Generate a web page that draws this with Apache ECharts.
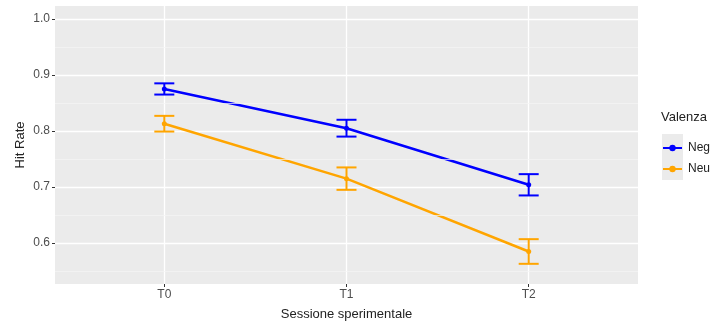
<!DOCTYPE html>
<html>
<head>
<meta charset="utf-8">
<script src="https://cdn.jsdelivr.net/npm/echarts@6/dist/echarts.min.js"></script>
<style>
  html, body { margin: 0; padding: 0; background: #fff; }
  #main { width: 717px; height: 324px; }
</style>
</head>
<body>
<div id="main"></div>
<script>
// dati
var sessioni = ['T0', 'T1', 'T2'];
var negMean = [0.875, 0.805, 0.704];
var negErr = [0.010, 0.015, 0.019];
var neuMean = [0.813, 0.715, 0.585];
var neuErr = [0.014, 0.020, 0.022];
var yTicks = [0.6, 0.7, 0.8, 0.9, 1.0];
var yMinor = [0.55, 0.65, 0.75, 0.85, 0.95];

(function () {
  var myChart = echarts.init(document.getElementById('main'));
  var font = 'Liberation Sans, Arial, sans-serif';

  function pts(arr) {
    return arr.map(function (v, i) { return [i, v]; });
  }
  function bars(mean, err) {
    return mean.map(function (v, i) { return [i, v - err[i], v + err[i]]; });
  }
  // barre di errore
  function errorBar(color) {
    return function (params, api) {
      var x = api.value(0);
      var lo = api.coord([x, api.value(1)]);
      var hi = api.coord([x, api.value(2)]);
      var half = 10;
      var st = { stroke: color, lineWidth: 2 };
      return {
        type: 'group',
        children: [
          { type: 'line', shape: { x1: lo[0], y1: lo[1], x2: hi[0], y2: hi[1] }, style: st },
          { type: 'line', shape: { x1: lo[0] - half, y1: lo[1], x2: lo[0] + half, y2: lo[1] }, style: st },
          { type: 'line', shape: { x1: hi[0] - half, y1: hi[1], x2: hi[0] + half, y2: hi[1] }, style: st }
        ]
      };
    };
  }

  var option = {
    animation: false,
    grid: {
      left: 55,
      right: 79,
      top: 6,
      bottom: 40,
      outerBoundsMode: 'none',
      show: true,
      backgroundColor: '#EBEBEB',
      borderWidth: 0
    },
    xAxis: {
      type: 'value',
      min: -0.6,
      max: 2.6,
      name: 'Sessione sperimentale',
      nameLocation: 'middle',
      nameGap: 24,
      nameMoveOverlap: false,
      nameTextStyle: { color: '#222', fontSize: 13, fontFamily: font },
      axisLine: { show: false, onZero: false },
      axisTick: { customValues: [0, 1, 2], length: 3, lineStyle: { color: '#333', width: 1 } },
      axisLabel: {
        customValues: [0, 1, 2],
        color: '#4D4D4D',
        fontSize: 12,
        fontFamily: font,
        margin: 5,
        formatter: function (v) { return sessioni[Math.round(v)]; }
      },
      splitLine: { show: true, lineStyle: { color: '#fff', width: 1.3 } }
    },
    yAxis: {
      type: 'value',
      min: 0.527,
      max: 1.023,
      name: 'Hit Rate',
      nameLocation: 'middle',
      nameGap: 28,
      nameMoveOverlap: false,
      nameTextStyle: { color: '#222', fontSize: 13, fontFamily: font },
      axisLine: { show: false, onZero: false },
      axisTick: { customValues: yTicks, length: 3, lineStyle: { color: '#333', width: 1 } },
      axisLabel: {
        customValues: yTicks,
        color: '#4D4D4D',
        fontSize: 12,
        fontFamily: font,
        margin: 5,
        formatter: function (v) { return v.toFixed(1); }
      },
      splitLine: { show: true, lineStyle: { color: '#fff', width: 1.3 } }
    },
    legend: {
      orient: 'vertical',
      left: 662,
      top: 142,
      itemWidth: 19,
      itemHeight: 8,
      itemGap: 9,
      padding: 0,
      data: ['Neg', 'Neu'],
      textStyle: { color: '#222', fontSize: 12, fontFamily: font, padding: [0, 0, 0, 1] }
    },
    graphic: [
      {
        type: 'text',
        left: 661,
        top: 111,
        style: { text: 'Valenza', fill: '#222', font: '13px ' + font }
      },
      {
        type: 'rect',
        left: 662,
        top: 134,
        z: -1,
        shape: { width: 21, height: 46 },
        style: { fill: '#EBEBEB' }
      }
    ],
    series: [
      {
        // griglia minore
        type: 'line',
        data: [],
        silent: true,
        z: 0,
        markLine: {
          silent: true,
          symbol: 'none',
          label: { show: false },
          lineStyle: { color: '#F5F5F5', width: 0.7, type: 'solid' },
          data: yMinor.map(function (v) { return { yAxis: v }; })
        }
      },
      {
        name: 'Neg',
        type: 'line',
        data: pts(negMean),
        color: '#0000FF',
        symbol: 'circle',
        symbolSize: 5,
        lineStyle: { width: 2.5 },
        z: 3
      },
      {
        name: 'Neu',
        type: 'line',
        data: pts(neuMean),
        color: '#FFA500',
        symbol: 'circle',
        symbolSize: 5,
        lineStyle: { width: 2.5 },
        z: 3
      },
      {
        type: 'custom',
        renderItem: errorBar('#0000FF'),
        data: bars(negMean, negErr),
        z: 3
      },
      {
        type: 'custom',
        renderItem: errorBar('#FFA500'),
        data: bars(neuMean, neuErr),
        z: 3
      }
    ]
  };
  myChart.setOption(option);
  window.addEventListener('resize', function () {
    myChart.resize();
  });
})();
</script>
</body>
</html>
